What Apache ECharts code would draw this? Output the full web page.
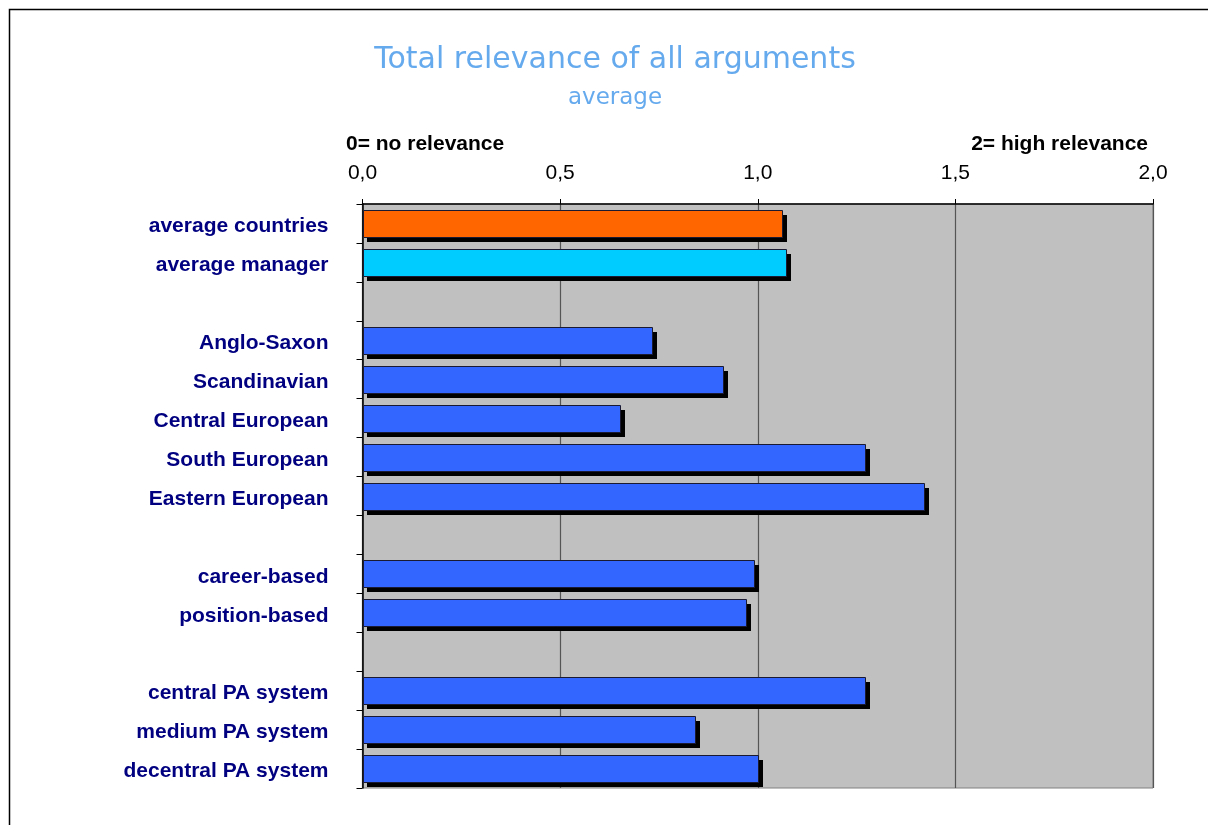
<!DOCTYPE html>
<html>
<head>
<meta charset="utf-8">
<script src="https://cdn.jsdelivr.net/npm/echarts@6/dist/echarts.min.js"></script>
<style>
  html, body { margin: 0; padding: 0; background: #fff; }
  #chart { width: 1208px; height: 825px; }
</style>
</head>
<body>
<div id="chart"></div>
<script>
// Groups separated by empty rows (empty name, no value)
const categories = [
  'average countries', 'average manager', '',
  'Anglo-Saxon', 'Scandinavian', 'Central European', 'South European', 'Eastern European', '',
  'career-based', 'position-based', '',
  'central PA system', 'medium PA system', 'decentral PA system'
];
const values = [
  1.06, 1.07, null,
  0.73, 0.91, 0.65, 1.27, 1.42, null,
  0.99, 0.97, null,
  1.27, 0.84, 1.00
];
const axisTicks = [0, 0.5, 1.0, 1.5, 2.0];

const chart = echarts.init(document.getElementById('chart'));

function barColor(i) {
  if (i === 0) return '#FF6600';
  if (i === 1) return '#00CCFF';
  return '#3366FF';
}

// Bar with a hard black drop shadow, positioned through the axis scales
function renderBar(params, api) {
  const v = api.value(0);
  const idx = api.value(1);
  if (v == null || isNaN(v)) return null;
  const p0 = api.coord([0, idx]);
  const p1 = api.coord([v, idx]);
  const band = api.size([0, 1])[1];
  const h = Math.round(band * 0.7);
  const top = Math.round(p0[1] - h / 2);
  const x0 = Math.round(p0[0]);
  const w = Math.round(p1[0] - p0[0]);
  return {
    type: 'group',
    children: [
      {
        type: 'rect',
        shape: { x: x0 + 4, y: top + 5, width: w + 1, height: h },
        style: { fill: '#000' }
      },
      {
        type: 'rect',
        shape: { x: x0 + 0.5, y: top + 0.5, width: w, height: h },
        style: { fill: barColor(params.dataIndex), stroke: '#1a1a33', lineWidth: 1 }
      }
    ]
  };
}

chart.setOption({
  animation: false,
  backgroundColor: '#fff',
  textStyle: { fontFamily: 'Liberation Sans, Arial, sans-serif' },
  graphic: [
    {
      type: 'rect', silent: true, z: -10,
      shape: { x: 9.5, y: 9.5, width: 1220, height: 840 },
      style: { fill: 'none', stroke: '#000', lineWidth: 1.5 }
    },
    {
      type: 'text', left: 346, top: 134,
      style: { text: '0= no relevance', font: 'bold 21px "Liberation Sans", Arial, sans-serif', fill: '#000' }
    },
    {
      type: 'text', right: 60, top: 134,
      style: { text: '2= high relevance', font: 'bold 21px "Liberation Sans", Arial, sans-serif', fill: '#000' }
    }
  ],
  title: {
    text: 'Total relevance of all arguments',
    subtext: 'average',
    left: 610,
    textAlign: 'center',
    top: 40,
    itemGap: 12,
    textStyle: { color: '#66AAEE', fontSize: 30, fontWeight: 'normal', fontFamily: 'DejaVu Sans' },
    subtextStyle: { color: '#66AAEE', fontSize: 23, fontFamily: 'DejaVu Sans' }
  },
  grid: {
    left: 362.5, right: 55, top: 204, bottom: 37,
    show: true, backgroundColor: '#C0C0C0', borderColor: '#808080', borderWidth: 1
  },
  xAxis: {
    type: 'value', position: 'top',
    min: 0, max: 2, interval: 0.5,
    axisLine: { show: true, lineStyle: { color: '#000', width: 1.5 } },
    axisTick: { show: true, length: 5, inside: false, lineStyle: { color: '#000' } },
    axisLabel: {
      color: '#000', fontSize: 21, margin: 20,
      formatter: v => v.toFixed(1).replace('.', ',')
    },
    splitLine: { show: true, lineStyle: { color: '#555', width: 1.2 } }
  },
  yAxis: {
    type: 'category', inverse: true, data: categories,
    axisLine: { show: true, lineStyle: { color: '#000', width: 1.5 } },
    axisTick: { show: true, length: 6, interval: 0, lineStyle: { color: '#000' } },
    axisLabel: {
      interval: 0, margin: 34,
      formatter: name => name ? '{lbl|' + name + '}' : '',
      rich: {
        lbl: {
          color: '#000080', fontWeight: 'bold', fontSize: 21,
          fontFamily: 'Liberation Sans, Arial, sans-serif',
          padding: [6, 0, 0, 0]
        }
      }
    },
    splitLine: { show: false }
  },
  series: [{
    type: 'custom',
    renderItem: renderBar,
    encode: { x: 0, y: 1 },
    data: values.map((v, i) => [v, i])
  }]
});
</script>
</body>
</html>
